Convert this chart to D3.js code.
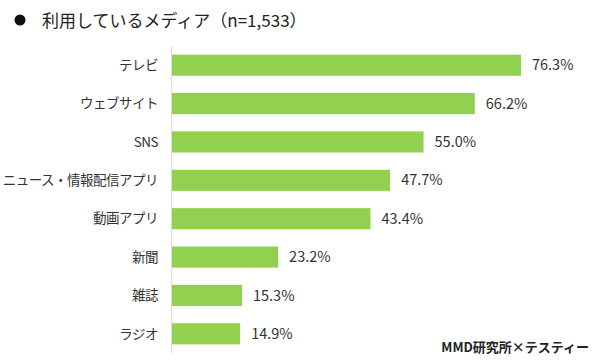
<!DOCTYPE html>
<html><head><meta charset="utf-8">
<script src="https://cdn.jsdelivr.net/npm/d3@7"></script>
<style>body{margin:0;background:#fff}svg{display:block;font-family:"Noto Sans CJK JP","Noto Sans",sans-serif}</style>
</head><body><svg id="c" width="600" height="360"></svg>
<script>
const categories = ["テレビ","ウェブサイト","SNS","ニュース・情報配信アプリ","動画アプリ","新聞","雑誌","ラジオ"];
const values = [76.3,66.2,55.0,47.7,43.4,23.2,15.3,14.9];
const title = "利用しているメディア（n=1,533）";
const source = "MMD研究所×テスティー";

const svg = d3.select("#c");
const x = d3.scaleLinear().domain([0,100]).range([172,629.4]);
const y = d3.scaleBand().domain(categories).range([46,353]).paddingInner(0.45).paddingOuter(0.225);

svg.append("circle").attr("cx",20).attr("cy",20).attr("r",5.5).attr("fill","#111");
svg.append("text").attr("x",42).attr("y",27).attr("font-size",17).attr("fill","#222").text(title);

svg.selectAll("rect.bar").data(values).join("rect").attr("class","bar")
  .attr("x",x(0)).attr("y",(d,i)=>y(categories[i]))
  .attr("width",d=>x(d)-x(0)).attr("height",y.bandwidth()).attr("fill","#92D050");

svg.append("line").attr("x1",x(0)-0.5).attr("x2",x(0)-0.5).attr("y1",46).attr("y2",353).attr("stroke","#d9d9d9").attr("stroke-width",1);

svg.selectAll("text.cat").data(categories).join("text").attr("class","cat")
  .attr("x",158).attr("y",d=>y(d)+y.bandwidth()/2).attr("dy","0.35em")
  .attr("text-anchor","end").attr("font-size",13.5).attr("letter-spacing","-0.5")
  .attr("fill","#333").text(d=>d);

svg.selectAll("text.val").data(values).join("text").attr("class","val")
  .attr("x",d=>x(d)+11).attr("y",(d,i)=>y(categories[i])+y.bandwidth()/2).attr("dy","0.35em")
  .attr("font-size",14.5).attr("fill","#333").text(d=>d.toFixed(1)+"%");

svg.append("text").attr("x",589).attr("y",352).attr("text-anchor","end")
  .attr("font-size",13).attr("font-weight","bold").attr("fill","#222").text(source);
</script></body></html>
